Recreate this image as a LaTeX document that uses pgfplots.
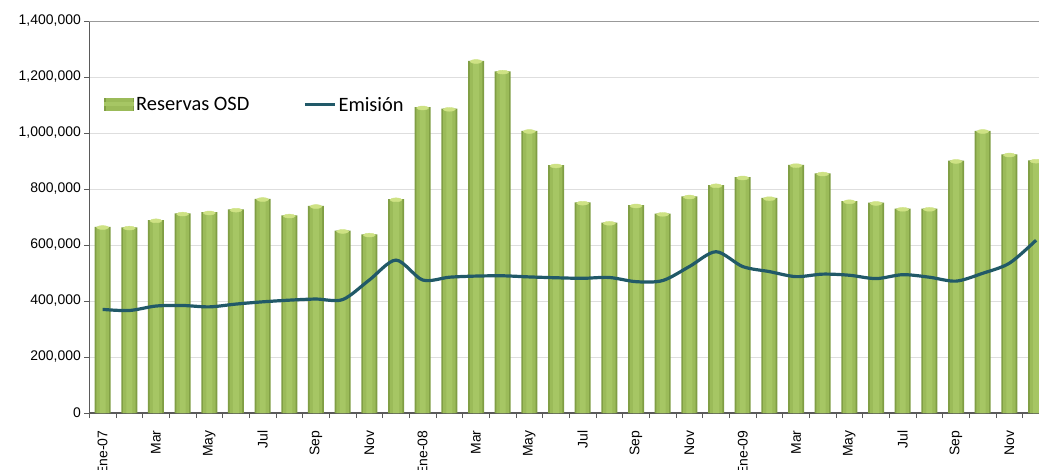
\documentclass[border=0pt]{standalone}
\usepackage{fontspec}
\setmainfont{Liberation Sans}
\newfontfamily\calibri{Carlito}
\usepackage{pgfplots}
\pgfplotsset{compat=1.18}
\definecolor{barDark}{RGB}{128,158,68}
\definecolor{barMain}{RGB}{155,187,89}
\definecolor{barLight}{RGB}{166,198,100}
\definecolor{barCap}{RGB}{206,226,132}
\definecolor{lineTeal}{RGB}{33,89,104}
\definecolor{axisGrey}{RGB}{90,90,90}

\pgfplotstableread{
i v
0 665000
1 663000
2 689000
3 713000
4 717000
5 727000
6 765000
7 706000
8 740000
9 651000
10 638000
11 764000
12 1092000
13 1087000
14 1258000
15 1220000
16 1008000
17 885000
18 752000
19 680000
20 742000
21 712000
22 774000
23 814000
24 842000
25 768000
26 886000
27 856000
28 757000
29 751000
30 730000
31 730000
32 901000
33 1008000
34 924000
35 902000
}\reservas

\pgfplotstableread{
i v
0 370000
1 366000
2 382000
3 384000
4 379000
5 389000
6 397000
7 403000
8 407000
9 405000
10 475000
11 546000
12 475000
13 485000
14 489000
15 490000
16 486000
17 483000
18 481000
19 484000
20 469000
21 473000
22 523000
23 576000
24 523000
25 505000
26 487000
27 496000
28 492000
29 480000
30 494000
31 485000
32 471000
33 499000
34 535000
35 617000
}\emision

\begin{document}
\begin{tikzpicture}
\useasboundingbox (-89.3bp,-57bp) rectangle (949.7bp,413bp);
\clip (-89.3bp,-57bp) rectangle (949.7bp,413bp);
\begin{axis}[
  at={(0,0)}, anchor=south west,
  scale only axis,
  width=949.7bp, height=392bp,
  xmin=-0.5, xmax=35.11,
  ymin=0, ymax=1400000,
  axis x line*=bottom, axis y line*=left,
  axis line style={-, axisGrey, line width=1.2bp},
  tick align=outside, tick style={axisGrey, line width=0.8bp},
  major tick length=5bp,
  xtick={-0.5,0.5,...,35.5},
  x tick label as interval,
  xticklabels={Ene-07,,Mar,,May,,Jul,,Sep,,Nov,,Ene-08,,Mar,,May,,Jul,,Sep,,Nov,,Ene-09,,Mar,,May,,Jul,,Sep,,Nov,},
  x tick label style={rotate=90, anchor=east, font=\fontsize{14}{16}\selectfont},
  xticklabel shift=9bp,
  ytick={0,200000,...,1400000},
  scaled y ticks=false,
  y tick label style={font=\fontsize{14}{16}\selectfont},
  yticklabel style={/pgf/number format/.cd, fixed, 1000 sep={,}, assume math mode=true},
  ymajorgrids,
  grid style={black!13, line width=0.6bp},
  extra y ticks={1400000}, extra y tick labels={},
  extra y tick style={grid style={black!40, line width=0.8bp}, major tick length=0bp},
  legend columns=2,
  legend style={draw=none, fill=none, inner sep=0pt,
    at={(rel axis cs:0.0155,0.786)}, anchor=west,
    font=\calibri\fontsize{20.5}{23}\selectfont,
    /tikz/every even column/.append style={column sep=52bp}},
]
% bar body: darker rim, main fill, light centre, light cap
\addplot[ybar, bar width=16bp, fill=barDark, draw=none,
  legend image code/.code={
    \fill[barDark] (0bp,-6.5bp) rectangle (30bp,6.5bp);
    \fill[barMain] (1.5bp,-6.5bp) rectangle (28.5bp,6.5bp);
    \fill[barLight] (0bp,-1.5bp) rectangle (30bp,3bp);}]
  table[x=i, y=v] {\reservas};
\addlegendentry{Reservas OSD}
\addplot[ybar, bar width=12.5bp, fill=barMain, draw=none, forget plot]
  table[x=i, y=v] {\reservas};
\addplot[ybar, bar width=6bp, fill=barLight, draw=none, forget plot]
  table[x=i, y=v] {\reservas};
\addplot[only marks, mark=*, color=barCap, forget plot,
  mark options={fill=barCap, draw=barCap, yscale=0.32, yshift=-2.3bp},
  mark size=6bp]
  table[x=i, y=v] {\reservas};
\addplot[lineTeal, line width=3.2bp, smooth, tension=0.5, mark=none,
  legend image code/.code={\draw[lineTeal, line width=3.2bp] (0bp,0bp) -- (30bp,0bp);}]
  table[x=i, y=v] {\emision};
\addlegendentry{Emisión}
\end{axis}
\end{tikzpicture}
\end{document}
